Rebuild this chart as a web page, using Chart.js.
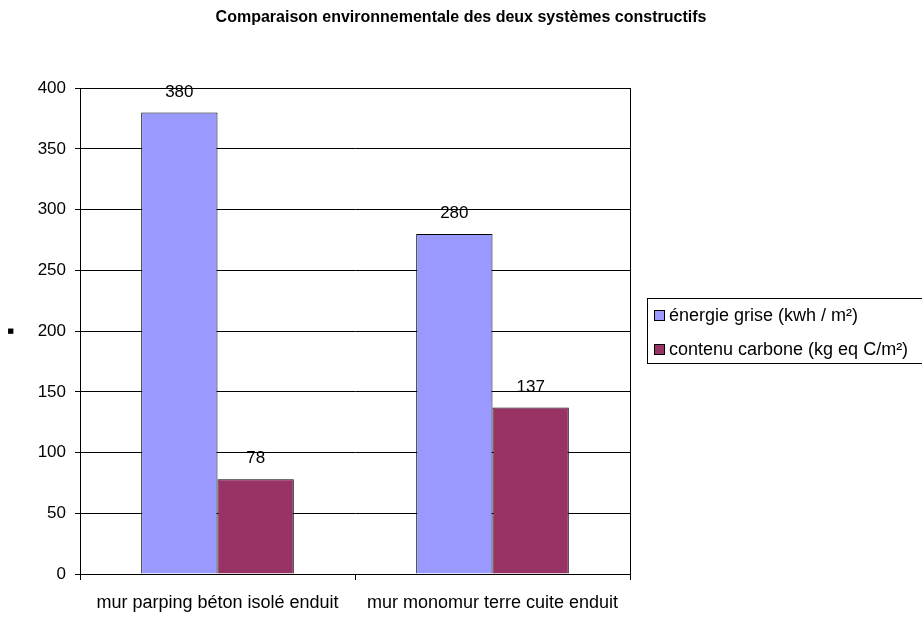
<!DOCTYPE html>
<html>
<head>
<meta charset="utf-8">
<script src="https://cdn.jsdelivr.net/npm/chart.js@4"></script>
<style>
  body { margin: 0; background: #fff; }
  #wrap { position: relative; width: 922px; height: 634px; overflow: hidden; }
  #legend {
    position: absolute; left: 647px; top: 298px; width: 300px; height: 66px;
    border: 1px solid #000; box-sizing: border-box;
    font: 18px "Liberation Sans", Arial, sans-serif; color: #000;
  }
  #legend div { position: absolute; left: 6px; white-space: nowrap; line-height: 20px; }
  #legend span { display: inline-block; width: 9px; height: 9px; border: 1px solid #000; margin-right: 4px; vertical-align: 0px; }
</style>
</head>
<body>
<div id="wrap">
  <canvas id="chart" width="922" height="634"></canvas>
  <div id="legend"></div>
</div>
<script>
// values
var categories = ["mur parping béton isolé enduit", "mur monomur terre cuite enduit"];
var energieGrise = [380, 280];
var contenuCarbone = [78, 137];
var seriesNames = ["énergie grise (kwh / m²)", "contenu carbone (kg eq C/m²)"];
var seriesColors = ["#9999FF", "#993366"];

var font = "'Liberation Sans', Arial, sans-serif";

// value labels over the bars + frame round the plot
var barLabels = {
  id: 'barLabels',
  afterDatasetsDraw: function(chart) {
    var ctx = chart.ctx;
    ctx.save();
    ctx.font = "17px " + font;
    ctx.fillStyle = "#000";
    ctx.textAlign = "center";
    ctx.textBaseline = "bottom";
    chart.data.datasets.forEach(function(ds, i) {
      chart.getDatasetMeta(i).data.forEach(function(bar, j) {
        ctx.fillText(ds.data[j], bar.x, bar.y - 12);
      });
    });
    var a = chart.chartArea;
    ctx.strokeStyle = "#000";
    ctx.lineWidth = 1;
    ctx.strokeRect(Math.round(a.left) + 0.5, Math.round(a.top) + 0.5, Math.round(a.right - a.left), Math.round(a.bottom - a.top));
    ctx.restore();
  }
};

var ctx = document.getElementById("chart").getContext('2d');
var myChart = new Chart(ctx, {
  type: 'bar',
  data: {
    labels: categories,
    datasets: [{
      label: seriesNames[0],
      backgroundColor: seriesColors[0],
      borderColor: "#000",
      borderWidth: 1,
      data: energieGrise
    }, {
      label: seriesNames[1],
      backgroundColor: seriesColors[1],
      borderColor: "#000",
      borderWidth: 1,
      data: contenuCarbone
    }]
  },
  options: {
    responsive: false,
    animation: false,
    layout: { padding: 0 },
    datasets: { bar: { categoryPercentage: 0.555, barPercentage: 1 } },
    plugins: {
      legend: { display: false },
      tooltip: { enabled: false },
      title: {
        display: true,
        text: "Comparaison environnementale des deux systèmes constructifs",
        color: "#000",
        font: { family: font, size: 16, weight: 'bold' },
        padding: { top: 8, bottom: 61 }
      }
    },
    scales: {
      x: {
        grid: { offset: true, drawOnChartArea: false, color: "#000", tickLength: 6 },
        border: { color: "#000" },
        ticks: { color: "#000", font: { family: font, size: 18 }, padding: 12, maxRotation: 0 },
        afterFit: function(scale) { scale.height = 60; }
      },
      y: {
        min: 0, max: 400,
        ticks: { stepSize: 50, color: "#000", font: { family: font, size: 17 }, padding: 9 },
        grid: { color: "#000", tickLength: 5 },
        border: { color: "#000" },
        title: { display: true, text: "■", color: "#000", font: { family: font, size: 11 } },
        afterFit: function(scale) { scale.width = 80; }
      },
      // empty axis on the right keeps room for the legend box
      side: {
        position: 'right',
        display: true,
        grid: { display: false },
        border: { display: false },
        ticks: { display: false },
        afterFit: function(scale) { scale.width = 292; }
      }
    }
  },
  plugins: [barLabels]
});

// legend box on the right
var legend = document.getElementById("legend");
seriesNames.forEach(function(name, i) {
  var row = document.createElement("div");
  row.style.top = (i === 0 ? 6 : 40) + "px";
  row.innerHTML = '<span style="background:' + seriesColors[i] + '"></span>' + name;
  legend.appendChild(row);
});
</script>
</body>
</html>
